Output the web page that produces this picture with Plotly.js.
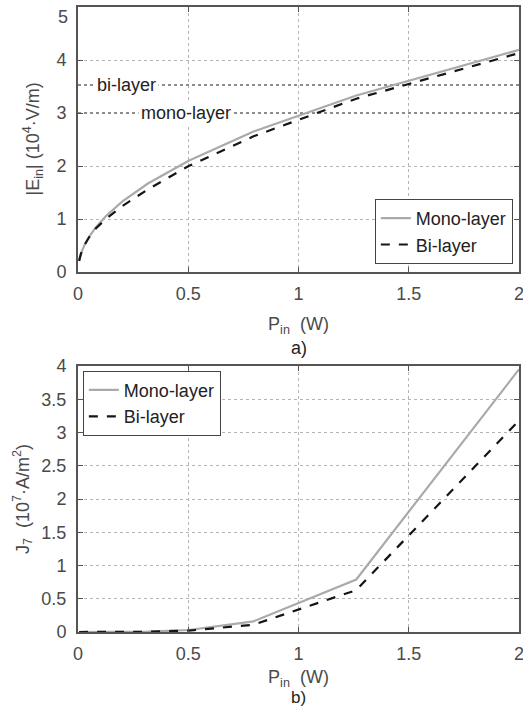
<!DOCTYPE html>
<html>
<head>
<meta charset="utf-8">
<script src="https://cdn.plot.ly/plotly-3.0.1.min.js"></script>
<style>
  html, body { margin: 0; padding: 0; background: #fff; }
  #chart { width: 523px; height: 708px; }
</style>
</head>
<body>
<div id="chart"></div>
<script>
// Input power samples (W), 2 dB steps up to 2 W
const powerW = [0.005, 0.008, 0.0126, 0.02, 0.0317, 0.0502, 0.0796, 0.126, 0.2, 0.317, 0.502, 0.796, 1.262, 2.0];

// a) |E_in| in 10^4 V/m
const eMono = [0.21, 0.265, 0.333, 0.419, 0.528, 0.664, 0.836, 1.052, 1.326, 1.67, 2.10, 2.65, 3.33, 4.19];
const eBi   = [0.21, 0.265, 0.333, 0.418, 0.525, 0.655, 0.815, 1.0, 1.24, 1.56, 2.0, 2.56, 3.27, 4.13];

// b) J_7 in 10^7 A/m^2
const jMono = [0, 0, 0, 0, 0, 0, 0, 0, 0.001, 0.005, 0.03, 0.16, 0.79, 3.95];
const jBi   = [0, 0, 0, 0, 0, 0, 0, 0, 0.001, 0.004, 0.02, 0.11, 0.63, 3.18];

// Field thresholds drawn as dotted reference levels in panel a)
const thresholdNames = ['bi-layer', 'mono-layer'];
const thresholdLevels = [3.53, 3.0];
const thresholdLabelX = [0.22, 0.49];

const seriesNames = ['Mono-layer', 'Bi-layer'];
const xRange = [0, 2];
const xTicks = [0, 0.5, 1, 1.5, 2];
const xTickText = ['0', '0.5', '1', '1.5', '2'];
const eTicks = [0, 1, 2, 3, 4, 5];
const eTickText = ['0', '1', '2', '3', '4', '5'];

const monoStyle = { color: '#aaaaaa', width: 2.2 };
const biStyle = { color: '#151515', width: 2.2, dash: 'dash' };
const font = 'Liberation Sans, Arial, sans-serif';

const traces = [];

// threshold lines (below the curves)
thresholdLevels.forEach((lvl) => {
  traces.push({
    x: xRange, y: [lvl, lvl], xaxis: 'x', yaxis: 'y',
    mode: 'lines', showlegend: false, hoverinfo: 'skip',
    line: { color: '#8c8c8c', width: 2, dash: 'dot' }
  });
});

traces.push({ x: powerW, y: eMono, xaxis: 'x', yaxis: 'y', mode: 'lines', name: seriesNames[0], line: monoStyle, legend: 'legend' });
traces.push({ x: powerW, y: eBi, xaxis: 'x', yaxis: 'y', mode: 'lines', name: seriesNames[1], line: biStyle, legend: 'legend' });
traces.push({ x: powerW, y: jMono, xaxis: 'x2', yaxis: 'y2', mode: 'lines', name: seriesNames[0], line: monoStyle, legend: 'legend2' });
traces.push({ x: powerW, y: jBi, xaxis: 'x2', yaxis: 'y2', mode: 'lines', name: seriesNames[1], line: biStyle, legend: 'legend2' });

const tickFont = { family: font, size: 18, color: '#4a4a4a' };
const axisCommon = {
  showline: true, mirror: 'ticks', linecolor: '#555', linewidth: 2,
  ticks: 'inside', ticklen: 5, tickwidth: 1, tickcolor: '#555',
  showgrid: true, gridcolor: '#b5b5b5', gridwidth: 1, griddash: 'dot',
  zeroline: false, ticklabeloverflow: 'allow',
  tickfont: tickFont
};

const titleFont = { family: font, size: 18, color: '#4a4a4a' };
const xTitleTop = { text: 'P<sub>in</sub>  (W)', font: titleFont, standoff: 15 };
const xTitleBottom = { text: 'P<sub>in</sub>  (W)', font: titleFont, standoff: 8 };

const annotations = thresholdNames.map((name, i) => ({
  x: thresholdLabelX[i], y: thresholdLevels[i], xref: 'x', yref: 'y',
  text: name, showarrow: false, bgcolor: '#ffffff',
  font: { family: font, size: 18, color: '#222' }, borderpad: 2
}));
// top tick label of panel a), kept inside the page
annotations.push({ text: eTickText[5], xref: 'paper', yref: 'y', x: 0, y: eTicks[5],
  xanchor: 'right', yanchor: 'top', xshift: -8, yshift: 2, showarrow: false, font: tickFont });
// y-axis titles
annotations.push({ text: '|E<sub>in</sub>| (10<sup>4</sup>·V/m)', textangle: -90, xref: 'paper', yref: 'paper',
  x: 0, xshift: -45, y: 0.788, xanchor: 'center', yanchor: 'middle', showarrow: false, font: titleFont });
annotations.push({ text: 'J<sub>7</sub>  (10<sup>7</sup>·A/m<sup>2</sup>)', textangle: -90, xref: 'paper', yref: 'paper',
  x: 0, xshift: -56, y: 0.2128, xanchor: 'center', yanchor: 'middle', showarrow: false, font: titleFont });
// panel labels
annotations.push({ text: 'a)', xref: 'paper', yref: 'paper', x: 0.5, y: 0.576, yshift: -76,
  xanchor: 'center', yanchor: 'middle', showarrow: false, font: { family: font, size: 18, color: '#222' } });
annotations.push({ text: 'b)', xref: 'paper', yref: 'paper', x: 0.5, y: 0, yshift: -65,
  xanchor: 'center', yanchor: 'middle', showarrow: false, font: { family: font, size: 17, color: '#222' } });

const legendCommon = {
  bgcolor: '#ffffff', bordercolor: '#444', borderwidth: 1,
  font: { family: font, size: 18, color: '#222' },
  tracegroupgap: 0, itemwidth: 30
};

const layout = {
  width: 523, height: 708,
  margin: { l: 78, r: 4, t: 7, b: 76 },
  paper_bgcolor: '#ffffff', plot_bgcolor: '#ffffff',
  showlegend: true,
  xaxis: Object.assign({}, axisCommon, { range: xRange, anchor: 'y', tickvals: xTicks, ticktext: xTickText, ticklabelstandoff: 4, title: xTitleTop }),
  yaxis: Object.assign({}, axisCommon, { domain: [0.576, 1], range: [0, 5], tickvals: eTicks,
    ticktext: eTickText.slice(0, 5).concat(['']), ticklabelstandoff: 6 }),
  xaxis2: Object.assign({}, axisCommon, { range: xRange, anchor: 'y2', tickvals: xTicks, ticktext: xTickText, ticklabelstandoff: 4, title: xTitleBottom }),
  yaxis2: Object.assign({}, axisCommon, { domain: [0, 0.4256], range: [0, 4], dtick: 0.5, ticklabelstandoff: 6 }),
  legend: Object.assign({}, legendCommon, { x: 0.986, xanchor: 'right', y: 0.589, yanchor: 'bottom' }),
  legend2: Object.assign({}, legendCommon, { x: 0.011, xanchor: 'left', y: 0.418, yanchor: 'top' }),
  annotations: annotations
};

Plotly.newPlot('chart', traces, layout, { displayModeBar: false, staticPlot: true });
</script>
</body>
</html>
